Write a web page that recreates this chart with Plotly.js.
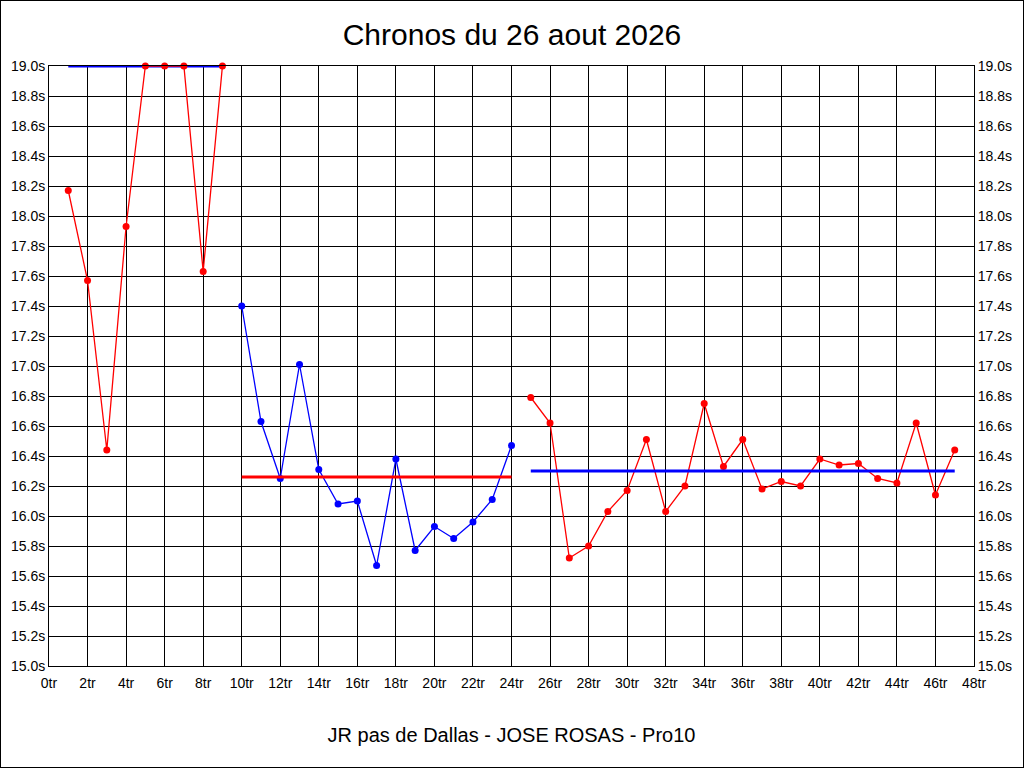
<!DOCTYPE html>
<html>
<head>
<meta charset="utf-8">
<script src="https://cdn.plot.ly/plotly-3.0.1.min.js"></script>
<style>
html,body{margin:0;padding:0;background:#fff;}
#chart{width:1022px;height:766px;border:1px solid #000;}
</style>
</head>
<body>
<div id="chart"></div>
<script>
// Lap numbers (tours) per segment
const laps1 = [1,2,3,4,5,6,7,8,9];
const laps2 = [10,11,12,13,14,15,16,17,18,19,20,21,22,23,24];
const laps3 = [25,26,27,28,29,30,31,32,33,34,35,36,37,38,39,40,41,42,43,44,45,46,47];
// Lap times in seconds
const times1 = [18.17,17.57,16.44,17.93,19.00,19.00,19.00,17.63,19.00];
const times2 = [17.40,16.63,16.25,17.01,16.31,16.08,16.10,15.67,16.38,15.77,15.93,15.85,15.96,16.11,16.47];
const times3 = [16.79,16.62,15.72,15.80,16.03,16.17,16.51,16.03,16.20,16.75,16.33,16.51,16.18,16.23,16.20,16.38,16.34,16.35,16.25,16.22,16.62,16.14,16.44];
// Segment averages
const avg1 = 19.00;
const avg2 = 16.26;
const avg3 = 16.30;

const RED = '#ff0000', BLUE = '#0000ff';

function dataTrace(x, y, color){
  return {x:x, y:y, type:'scatter', mode:'lines+markers', cliponaxis:false,
    line:{color:color, width:1.3}, marker:{color:color, size:7}, hoverinfo:'x+y'};
}
function avgTrace(x, v, color){
  return {x:[x[0], x[x.length-1]], y:[v, v], type:'scatter', mode:'lines', cliponaxis:false,
    line:{color:color, width:3}, hoverinfo:'y'};
}

const traces = [
  avgTrace(laps1, avg1, BLUE),
  dataTrace(laps1, times1, RED),
  dataTrace(laps2, times2, BLUE),
  avgTrace(laps2, avg2, RED),
  dataTrace(laps3, times3, RED),
  avgTrace(laps3, avg3, BLUE),
  {x:[0], y:[15], yaxis:'y2', type:'scatter', mode:'markers', marker:{opacity:0}, hoverinfo:'skip'}
];

const font = {family:'"Liberation Sans", Arial, sans-serif', color:'#000'};
const yaxisBase = {
  range:[15, 19], dtick:0.2, tick0:15, tickformat:'.1f', ticksuffix:'s',
  showgrid:true, gridcolor:'#000', gridwidth:1, zeroline:false,
  showline:true, linecolor:'#000', linewidth:1,
  ticks:'', tickfont:{family:font.family, size:14, color:'#000'}, fixedrange:true
};

const layout = {
  width:1022, height:766,
  margin:{l:48, r:49, t:65, b:101},
  paper_bgcolor:'#fff', plot_bgcolor:'#fff',
  showlegend:false,
  font:font,
  title:{text:'Chronos du 26 aout 2026', font:{family:font.family, size:30, color:'#000'},
    x:0.5, xanchor:'center', y:1-33/766, yanchor:'middle'},
  xaxis:{
    range:[0, 48], dtick:2, tick0:0, ticksuffix:'tr',
    showgrid:true, gridcolor:'#000', gridwidth:1, zeroline:false,
    showline:true, linecolor:'#000', linewidth:1, mirror:true,
    ticks:'', ticklabelstandoff:4, tickfont:{family:font.family, size:14, color:'#000'},
    title:{text:'JR pas de Dallas - JOSE ROSAS - Pro10', font:{family:font.family, size:20, color:'#000'}, standoff:38},
    fixedrange:true
  },
  yaxis:Object.assign({}, yaxisBase, {side:'left', mirror:true}),
  yaxis2:Object.assign({}, yaxisBase, {side:'right', overlaying:'y', showgrid:false})
};

Plotly.newPlot('chart', traces, layout, {displayModeBar:false, staticPlot:true});
</script>
</body>
</html>
